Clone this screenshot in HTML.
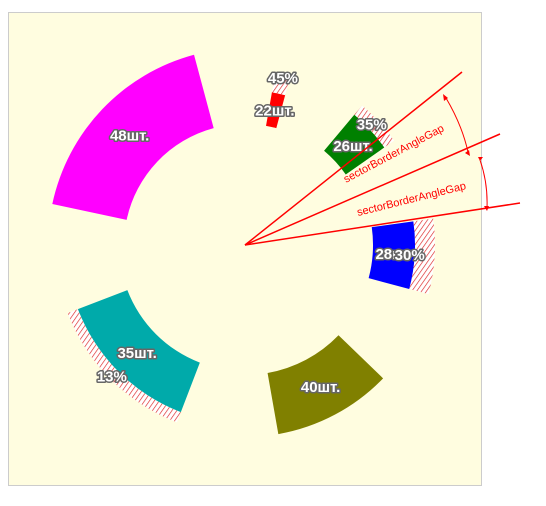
<!DOCTYPE html>
<html><head><meta charset="utf-8"><style>
body{margin:0;background:#fff;}
svg{display:block;font-family:"Liberation Sans",sans-serif;}
.lbl{font-weight:bold;font-size:15px;fill:#fff;stroke:#666;stroke-width:3px;paint-order:stroke;stroke-linejoin:round;}
</style></head><body>
<svg id="c" width="546" height="506">
<defs>
<pattern id="hatch" width="4" height="4" patternUnits="userSpaceOnUse" patternTransform="rotate(35)">
<rect width="4" height="4" fill="#fff"/>
<line x1="0" y1="0" x2="0" y2="4" stroke="#d22" stroke-width="1.3"/>
</pattern>
</defs>
<rect x="8.5" y="12.5" width="473" height="473" fill="#fffde0" stroke="#ccc"/>
<g id="sectors"></g>
<g id="anno"></g>
</svg>
<script>
const labels=["22шт.","26шт.","28шт","40шт.","35шт.","48шт."];
const values=[22,26,28,40,35,48];
const colors=["#ff0000","#008000","#0000ff","#808000","#00aaaa","#ff00ff"];
const startDeg=[10,40,82,134,201,282];
const endDeg=[15,55,105,170,249,345];
const innerR=[121,123,128,130,126,121];
const outerR=[155,170,170,192,179,197];
const hatchR=[175,182,190,0,190,0];
const pctText=["45%","35%","30%","","13%",""];
const pctR=[171,175,165,0,187,0];
const pctDeg=[12.8,46.4,93.5,0,225.4,0];
const cx=245,cy=245;
const NS="http://www.w3.org/2000/svg";
function pt(r,deg){const a=deg*Math.PI/180;return [cx+r*Math.sin(a),cy-r*Math.cos(a)];}
function arc(r0,r1,a0,a1){
 const p1=pt(r1,a0),p2=pt(r1,a1),p3=pt(r0,a1),p4=pt(r0,a0);
 return `M${p1}A${r1},${r1} 0 0 1 ${p2}L${p3}A${r0},${r0} 0 0 0 ${p4}Z`;
}
const g=document.getElementById('sectors');
const tg=[];
values.forEach((v,i)=>{
 if(hatchR[i]){
  const h=document.createElementNS(NS,'path');
  h.setAttribute('d',arc(outerR[i],hatchR[i],startDeg[i],endDeg[i]));
  h.setAttribute('fill','url(#hatch)');
  
  
  g.appendChild(h);
 }
 const p=document.createElementNS(NS,'path');
 p.setAttribute('d',arc(innerR[i],outerR[i],startDeg[i],endDeg[i]));
 p.setAttribute('fill',colors[i]);
 
 
 g.appendChild(p);
 const mid=(startDeg[i]+endDeg[i])/2,mr=(innerR[i]+outerR[i])/2;
 const c=pt(mr,mid);
 const t=document.createElementNS(NS,'text');
 t.setAttribute('class','lbl');t.setAttribute('x',c[0]);t.setAttribute('y',c[1]+5);
 t.setAttribute('text-anchor','middle');t.textContent=labels[i];
 
 
 tg.push(t);
 if(pctText[i]){
  const q=pt(pctR[i],pctDeg[i]);
  const s=document.createElementNS(NS,'text');
  s.setAttribute('class','lbl');s.setAttribute('x',q[0]);s.setAttribute('y',q[1]+5);
  s.setAttribute('text-anchor','middle');s.textContent=pctText[i];
  
  
  tg.push(s);
 }
});
tg.forEach(t=>g.appendChild(t));
const an=document.getElementById('anno');
const ends=[[462,72],[500,134],[520,203]];
ends.forEach(e=>{const l=document.createElementNS(NS,'line');
 l.setAttribute('x1',cx);l.setAttribute('y1',cy);l.setAttribute('x2',e[0]);l.setAttribute('y2',e[1]);
 l.setAttribute('stroke','#f00');l.setAttribute('stroke-width','1.5');
 
 
 an.appendChild(l);});
an.innerHTML+=`<path d="M446,98 Q462,125 468,152 M480,160 Q488,183 487,208" fill="none" stroke="#f00"/>
<path d="M443,94 l1,7 l4,-3Z M470,156 l-5,-3 l4,-3Z M478,157 l5,0 l-3,4Z M487,211 l-3,-5 l5,0Z" fill="#f00"/>
<text x="346" y="183" font-size="11" fill="#f00" transform="rotate(-28 346 183)">sectorBorderAngleGap</text>
<text x="358" y="216" font-size="11" fill="#f00" transform="rotate(-14 358 216)">sectorBorderAngleGap</text>`;
</script>
</body></html>
